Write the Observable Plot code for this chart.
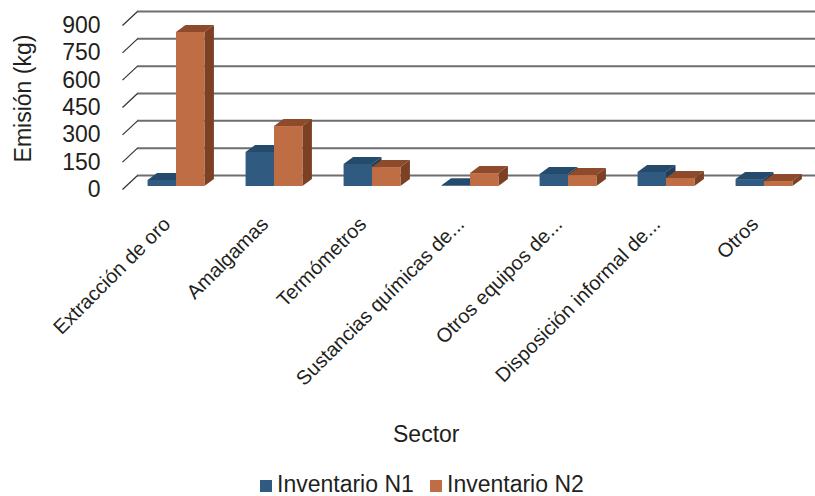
<!DOCTYPE html>
<html><head><meta charset="utf-8">
<script src="https://cdn.jsdelivr.net/npm/d3@7"></script>
<script src="https://cdn.jsdelivr.net/npm/@observablehq/plot@0.6"></script>
<style>
body{margin:0;background:#fff;}
#wrap{position:relative;width:815px;height:496px;font-family:"Liberation Sans",Arial,sans-serif;color:#231f20;overflow:hidden;}
#chart{position:absolute;left:0;top:0;}
#xtitle{position:absolute;left:393px;top:423px;font-size:23px;line-height:23px;white-space:nowrap;}
.lg{position:absolute;top:473px;font-size:23px;line-height:23px;white-space:nowrap;}
.sw{position:absolute;top:480px;width:12px;height:12px;}
</style></head>
<body>
<div id="wrap">
  <div id="chart"></div>
  <div id="xtitle">Sector</div>
  <div class="sw" style="left:260px;background:#305a7f"></div>
  <div class="lg" style="left:277px">Inventario N1</div>
  <div class="sw" style="left:430px;background:#bf6d44"></div>
  <div class="lg" style="left:447px">Inventario N2</div>
</div>
<script>
const categories = ["Extracción de oro","Amalgamas","Termómetros","Sustancias químicas de...","Otros equipos de...","Disposición informal de...","Otros"];
const inventarioN1 = [33, 187, 121, 4, 66, 77, 38];
const inventarioN2 = [845, 329, 104, 71, 60, 44, 27];
const yTicks = [0, 150, 300, 450, 600, 750, 900];
const yLabel = "Emisión (kg)";

const W = 815, H = 410, mL = 127, mR = 2, mT = 25, mB = 221;
const pxPerX = (W - mL - mR) / categories.length;
const pxPerY = (H - mB - mT) / 900;
const ux = px => px / pxPerX, uy = px => px / pxPerY;

// 3D depth (style constants)
const barDx = ux(9.5), barDy = uy(7);
const frontLeft = ux(-5), wallDx = ux(15), wallDy = uy(14);

const series = [
  {name: "Inventario N1", values: inventarioN1, a: 0.21, b: 0.5, front: "#305a7f", top: "#244a6c", side: "#1f3f5c"},
  {name: "Inventario N2", values: inventarioN2, a: 0.5, b: 0.79, front: "#bf6d44", top: "#8d4b2c", side: "#7c4124"}
];

const marks = [];
// back wall gridlines + left diagonals
marks.push(Plot.ruleY(yTicks, {y: d => d + wallDy, x1: frontLeft + wallDx, x2: categories.length + 0.2, stroke: "#6e6e6e", strokeWidth: 2}));
marks.push(Plot.link(yTicks, {x1: frontLeft, y1: d => d, x2: frontLeft + wallDx, y2: d => d + wallDy, stroke: "#333", strokeWidth: 1.2}));

for (const s of series) {
  const bars = categories.map((c, i) => ({id: c, xl: i + s.a, xr: i + s.b, v: s.values[i]}));
  const topPts = bars.flatMap(d => [
    {id: d.id, x: d.xl, y1: d.v, y2: d.v},
    {id: d.id, x: d.xl + barDx, y1: d.v, y2: d.v + barDy},
    {id: d.id, x: d.xr, y1: d.v, y2: d.v + barDy},
    {id: d.id, x: d.xr + barDx, y1: d.v + barDy, y2: d.v + barDy}
  ]);
  const sidePts = bars.flatMap(d => [
    {id: d.id, x: d.xr, y1: 0, y2: d.v},
    {id: d.id, x: d.xr + barDx, y1: barDy, y2: d.v + barDy}
  ]);
  marks.push(Plot.areaY(topPts, {x: "x", y1: "y1", y2: "y2", z: "id", fill: s.top, dy: -3}));
  marks.push(Plot.areaY(sidePts, {x: "x", y1: "y1", y2: "y2", z: "id", fill: s.side, dy: -3}));
  marks.push(Plot.rect(bars, {x1: "xl", x2: "xr", y1: 0, y2: "v", fill: s.front, dy: -3}));
}

marks.push(Plot.axisY(yTicks, {tickSize: 0, tickPadding: 27, fontSize: 23, label: null, fill: "#231f20"}));
marks.push(Plot.text([yLabel], {frameAnchor: "left", textAnchor: "middle", rotate: -90, dx: -104, dy: -9, fontSize: 23, fill: "#231f20"}));
marks.push(Plot.text(categories, {x: (d, i) => i + 0.5, y: 0, text: d => d, rotate: -45, textAnchor: "end", lineAnchor: "bottom", dx: -5, dy: 36, fontSize: 20, fill: "#231f20"}));

const chart = Plot.plot({
  width: W, height: H,
  marginLeft: mL, marginRight: mR, marginTop: mT, marginBottom: mB,
  x: {domain: [0, categories.length], axis: null},
  y: {domain: [0, 900], axis: null},
  style: {fontFamily: "'Liberation Sans', Arial, sans-serif", background: "transparent", overflow: "visible"},
  marks
});
document.getElementById("chart").appendChild(chart);
</script>
</body></html>
